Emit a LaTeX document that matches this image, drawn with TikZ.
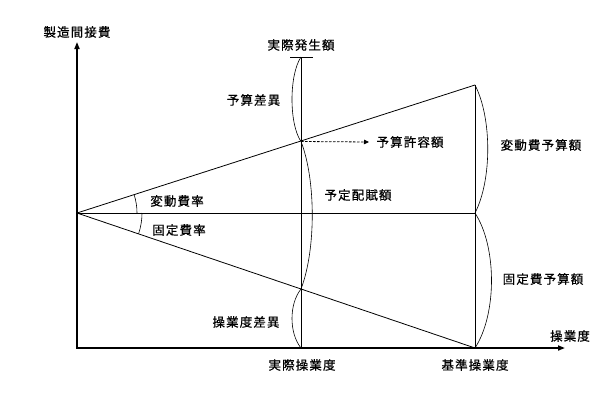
\documentclass[tikz,border=0pt]{standalone}
\usepackage{fontspec}
\newfontfamily\jp{Noto Sans CJK JP}[LetterSpace=9,FakeBold=0.6]
\usetikzlibrary{arrows.meta}
\begin{document}
\begin{tikzpicture}[x=1pt,y=-1pt,
  lbl/.style={font=\jp\fontsize{12.5}{15}\selectfont, inner sep=0pt},
  axis/.style={line width=1.6pt, {Triangle[length=7pt,width=5pt]}-{Triangle[length=7pt,width=5pt]}},
  ln/.style={line width=0.8pt},
  brace/.style={line width=0.6pt},
  dashline/.style={line width=0.8pt, dash pattern=on 2.5pt off 1.5pt, -{Triangle[length=5pt,width=4.5pt]}}]
\useasboundingbox (0,0) rectangle (614,400);
% points
\coordinate (O) at (77,348);
\coordinate (Ytop) at (77,42);
\coordinate (Xend) at (565,348);
\coordinate (S) at (77,213);
\coordinate (A0) at (301,348);
\coordinate (Atop) at (301,57);
\coordinate (AL) at (290,57);
\coordinate (AR) at (313,57);
\coordinate (AV) at (301,141.5);
\coordinate (AF) at (301,289);
\coordinate (B0) at (475,348);
\coordinate (BV) at (475,85);
\coordinate (BM) at (475,213);
\coordinate (D) at (369,142);
% axes
\draw[axis] (Ytop) -- (O) -- (Xend);
% lines
\draw[ln] (S) -- (BV);
\draw[ln] (S) -- (B0);
\draw[ln] (S) -- (BM);
\draw[ln] (A0) -- (Atop);
\draw[ln] (AL) -- (AR);
\draw[ln] (B0) -- (BV);
% angle arcs
\draw[brace] (137,213) arc[start angle=0, end angle=17.8, radius=60pt];
\draw[brace] (142,213) arc[start angle=0, end angle=-18.7, radius=65pt];
% braces
\draw[brace] (Atop) .. controls (289,75) and (289,124) .. (AV);
\draw[brace] (AV) .. controls (316,180) and (316,250) .. (AF);
\draw[brace] (AF) .. controls (289,304) and (289,333) .. (A0);
\draw[brace] (BV) .. controls (492,118) and (492,180) .. (BM);
\draw[brace] (BM) .. controls (497,247) and (497,314) .. (B0);
% dashed arrow
\draw[dashline] (AV) -- (D);
% labels
\node[lbl] (ly) at (77,32) {製造間接費};
\node[lbl] (lact) at (301,45) {実際発生額};
\node[lbl] (lbd) at (253.5,100) {予算差異};
\node[lbl] (lvr) at (177,201) {変動費率};
\node[lbl] (lfr) at (179,230) {固定費率};
\node[lbl] (lallow) at (410,142) {予算許容額};
\node[lbl] (lapp) at (358,195) {予定配賦額};
\node[lbl] (lvb) at (541,145) {変動費予算額};
\node[lbl] (lfb) at (543,279) {固定費予算額};
\node[lbl] (lvol) at (246,322) {操業度差異};
\node[lbl] (lal) at (302,365) {実際操業度};
\node[lbl] (lsl) at (475,365) {基準操業度};
\node[lbl] (lx) at (570,336) {操業度};
\end{tikzpicture}
\end{document}
